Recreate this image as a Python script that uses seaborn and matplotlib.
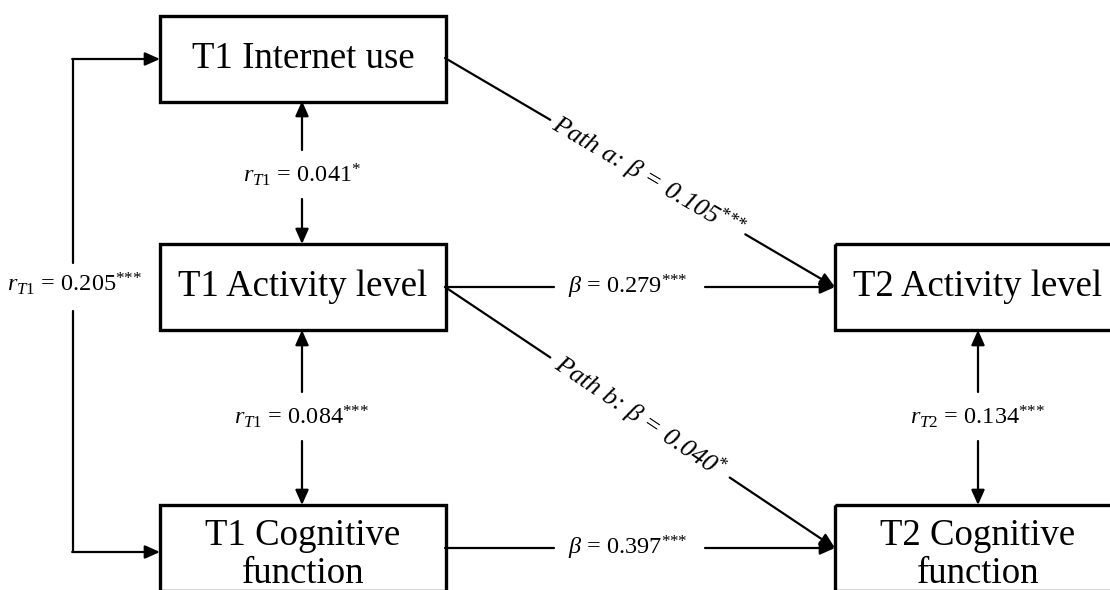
import numpy as np
import seaborn as sns
import matplotlib.pyplot as plt
from matplotlib.patches import Rectangle

sns.set_style("white")
plt.rcParams['font.family'] = ['Liberation Serif', 'DejaVu Serif']
plt.rcParams['text.color'] = 'black'
plt.rcParams['mathtext.fontset'] = 'custom'
plt.rcParams['mathtext.rm'] = 'Liberation Serif'
plt.rcParams['mathtext.it'] = 'Liberation Serif:italic'
plt.rcParams['mathtext.fallback'] = 'stix'

# node names
nodes = ["T1 Internet use", "T1 Activity level", "T1 Cognitive\nfunction",
         "T2 Activity level", "T2 Cognitive\nfunction"]

# path coefficients and labels
corr_labels = [r"$r_{\mathit{T1}}$ = 0.041$^{\text{*}}$",
               r"$r_{\mathit{T1}}$ = 0.084$^{\text{***}}$",
               r"$r_{\mathit{T2}}$ = 0.134$^{\text{***}}$",
               r"$r_{\mathit{T1}}$ = 0.205$^{\text{***}}$"]
beta_labels = [r"$\beta$ = 0.279$^{\text{***}}$", r"$\beta$ = 0.397$^{\text{***}}$"]
path_labels = [r"Path a: $\beta$ = 0.105$^{\text{***}}$",
               r"Path b: $\beta$ = 0.040$^{\text{*}}$"]

# layout (pixel coordinates, y downwards)
W, H = 1110, 590
box_w, box_h = 286, 86
box_xy = [(160, 16), (160, 244), (160, 505), (835, 244), (835, 505)]

fig = plt.figure(figsize=(W / 100, H / 100), dpi=100)
ax = fig.add_axes([0, 0, 1, 1])
ax.set_xlim(0, W)
ax.set_ylim(H, 0)
ax.set_aspect('equal')
ax.axis('off')
sns.despine(left=True, bottom=True)

for (x, y), name in zip(box_xy, nodes):
    ax.add_patch(Rectangle((x, y), box_w, box_h, fill=False, lw=2.4,
                           edgecolor='black', zorder=3))
    cy = y + box_h / 2 if "\n" not in name else y + 50
    ax.text(x + box_w / 2, cy, name, ha='center', va='center', fontsize=26.5,
            linespacing=1.15, zorder=4)

ARW = dict(arrowstyle='-|>,head_length=0.45,head_width=0.2', mutation_scale=20,
           lw=1.6, color='black', shrinkA=0, shrinkB=0)
LIN = dict(arrowstyle='-', lw=1.6, color='black', shrinkA=0, shrinkB=0)


def seg(p0, p1, head=True):
    ax.annotate("", xy=p1, xytext=p0, arrowprops=ARW if head else LIN)


# vertical correlations (double headed, split by label)
vx = [302, 302, 978]
vtop = [101, 330, 330]
vbot = [244, 505, 505]
vlab = [175, 417, 417]
for x, t, b, ly, lab in zip(vx, vtop, vbot, vlab, corr_labels[:3]):
    seg((x, ly - 25), (x, t))
    seg((x, ly + 24), (x, b))
    ax.text(x, ly, lab, ha='center', va='center', fontsize=17.5)

# outer loop between T1 internet use and T1 cognitive function
lx = 73
ax.plot([lx, lx], [59, 263], color='black', lw=1.6)
ax.plot([lx, lx], [311, 552], color='black', lw=1.6)
seg((lx - 0.8, 59), (160, 59))
seg((lx - 0.8, 552), (160, 552))
ax.text(75, 284, corr_labels[3], ha='center', va='center', fontsize=17.5,
        bbox=dict(facecolor='white', edgecolor='none', pad=2), zorder=5)

# horizontal stability paths
for y, lab in zip([287, 548], beta_labels):
    seg((445, y), (554, y), head=False)
    seg((705, y), (835, y))
    ax.text(628, y, lab, ha='center', va='center', fontsize=17.5)

# diagonal paths
starts = [(445, 58), (445, 287)]
ends = [(835, 287), (835, 548)]
gaps = [(0.27, 0.77), (0.27, 0.73)]
for (x0, y0), (x1, y1), (g0, g1), lab in zip(starts, ends, gaps, path_labels):
    d = np.array([x1 - x0, y1 - y0], dtype=float)
    L = np.hypot(*d)
    u = d / L
    seg((x0, y0), (x0 + u[0] * L * g0, y0 + u[1] * L * g0), head=False)
    seg((x0 + u[0] * L * g1, y0 + u[1] * L * g1), (x1, y1))
    ang = -np.degrees(np.arctan2(d[1], d[0]))
    m = (g0 + g1) / 2
    mid = (x0 + u[0] * L * m, y0 + u[1] * L * m)
    ax.text(mid[0], mid[1], lab, ha='center', va='center', fontsize=19,
            style='italic', rotation=ang, rotation_mode='anchor')

fig.savefig("out.png", dpi=100, facecolor='white')
